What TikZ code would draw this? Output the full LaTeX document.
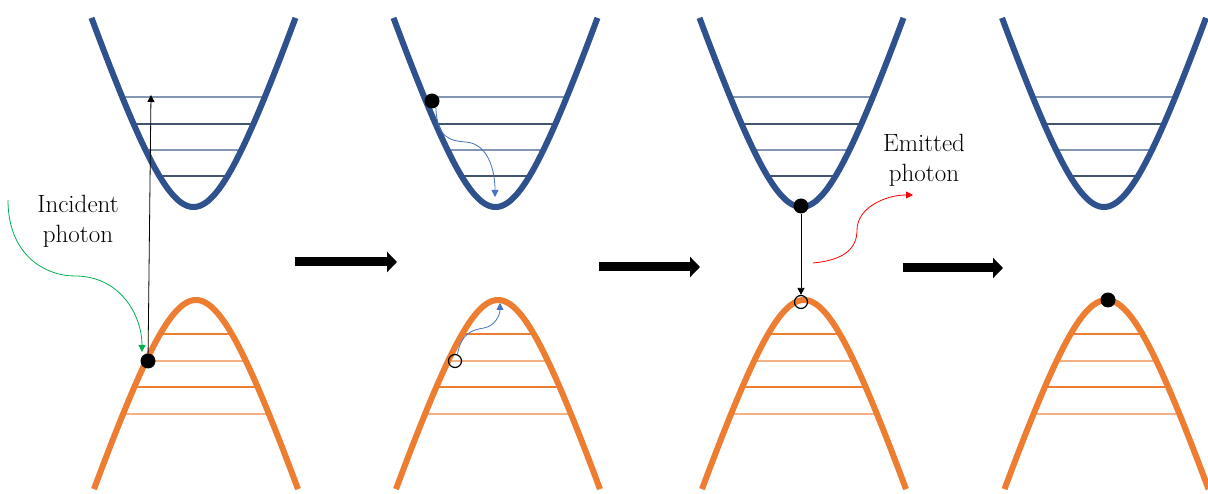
\documentclass[tikz,border=0pt]{standalone}
\usetikzlibrary{arrows.meta}
\definecolor{cband}{HTML}{2F528F}
\definecolor{vband}{HTML}{ED7D31}
\definecolor{clevA}{HTML}{8497B0}
\definecolor{clevB}{HTML}{44546A}
\definecolor{vlevA}{HTML}{ED7D31}
\definecolor{vlevB}{HTML}{F4B183}
\definecolor{gphoton}{HTML}{00B050}
\definecolor{barrow}{HTML}{4472C4}
\definecolor{rphoton}{HTML}{FF0000}
\begin{document}
\begin{tikzpicture}[x=1pt,y=-1pt,
  band/.style={line width=6pt},
  lev/.style={line width=1.1pt},
  electron/.style={circle,fill=black,inner sep=0pt,minimum size=15pt},
  hole/.style={circle,draw=black,line width=1.2pt,inner sep=0pt,minimum size=13pt},
  thinarrow/.style={line width=0.8pt,-{Triangle[length=7pt,width=7pt]}},
  stepArrow/.style={line width=9pt,-{Triangle[length=10pt,width=20pt]}},
  phototext/.style={font=\fontsize{25}{30}\selectfont,align=center}]
\useasboundingbox (0,0) rectangle (1208,494);

\foreach \ox in {0,302,608,910.5}{
  \begin{scope}[xshift=\ox]
    % conduction band levels
    \draw[lev,clevA] (193.5-71.3,97) -- (193.5+71.3,97);
    \draw[lev,clevB] (193.5-59.9,124) -- (193.5+59.9,124);
    \draw[lev,clevA] (193.5-47.9,150) -- (193.5+47.9,150);
    \draw[lev,clevB] (193.5-34.1,176) -- (193.5+34.1,176);
    % valence band levels
    \draw[lev,vlevA] (196-35.8,334) -- (196+35.8,334);
    \draw[lev,vlevB] (196-49.9,361) -- (196+49.9,361);
    \draw[lev,vlevA] (196-61.6,387) -- (196+61.6,387);
    \draw[lev,vlevB] (196-72.9,414) -- (196+72.9,414);
    % bands
    \draw[band,cband] plot[domain=-102:102,samples=121,smooth]
      ({193.5+\x},{207-10*(sqrt(234.09+0.09*\x*\x)-15.3)});
    \draw[band,vband] plot[domain=-102:102,samples=121,smooth]
      ({196+\x},{300+10*(sqrt(234.09+0.09*\x*\x)-15.3)});
  \end{scope}
}

% step arrows
\draw[stepArrow] (295,262) -- (397,262);
\draw[stepArrow] (599,267) -- (700,267);
\draw[stepArrow] (903,268) -- (1003,268);

% panel 1
\node[electron] (dot1) at (148,361) {};
\coordinate (top1) at (151,95);
\draw[thinarrow] (dot1) -- (top1);
\coordinate (g0) at (8,200);
\coordinate (g1) at (142,352);
\draw[thinarrow,gphoton] (g0) .. controls (8,255) and (45,276) .. (75,276)
  .. controls (120,276) and (142,315) .. (g1);
\node[phototext] (inc) at (78,221) {Incident\\photon};

% panel 2
\node[electron] (dot2) at (432,101) {};
\coordinate (c2) at (495,197);
\draw[thinarrow,barrow] (dot2.-60) .. controls (437,138) and (450,141) .. (466,142)
  .. controls (489,144) and (495,172) .. (c2);
\node[hole] (hole2) at (455,361) {};
\coordinate (v2) at (500,303);
\draw[thinarrow,barrow] (hole2.70) .. controls (461,335) and (470,330) .. (484,328)
  .. controls (495,326) and (500,315) .. (v2);

% panel 3
\node[electron] (dot3) at (801,206) {};
\node[hole] (hole3) at (801,302) {};
\draw[thinarrow] (dot3) -- (hole3);
\coordinate (r0) at (813,263);
\coordinate (r1) at (913,195);
\draw[thinarrow,rphoton] (r0) .. controls (845,260) and (857,248) .. (857,230)
  .. controls (857,208) and (885,195) .. (r1);
\node[phototext] (emi) at (924,160) {Emitted\\photon};

% panel 4
\node[electron] (dot4) at (1108,300) {};
\end{tikzpicture}
\end{document}
